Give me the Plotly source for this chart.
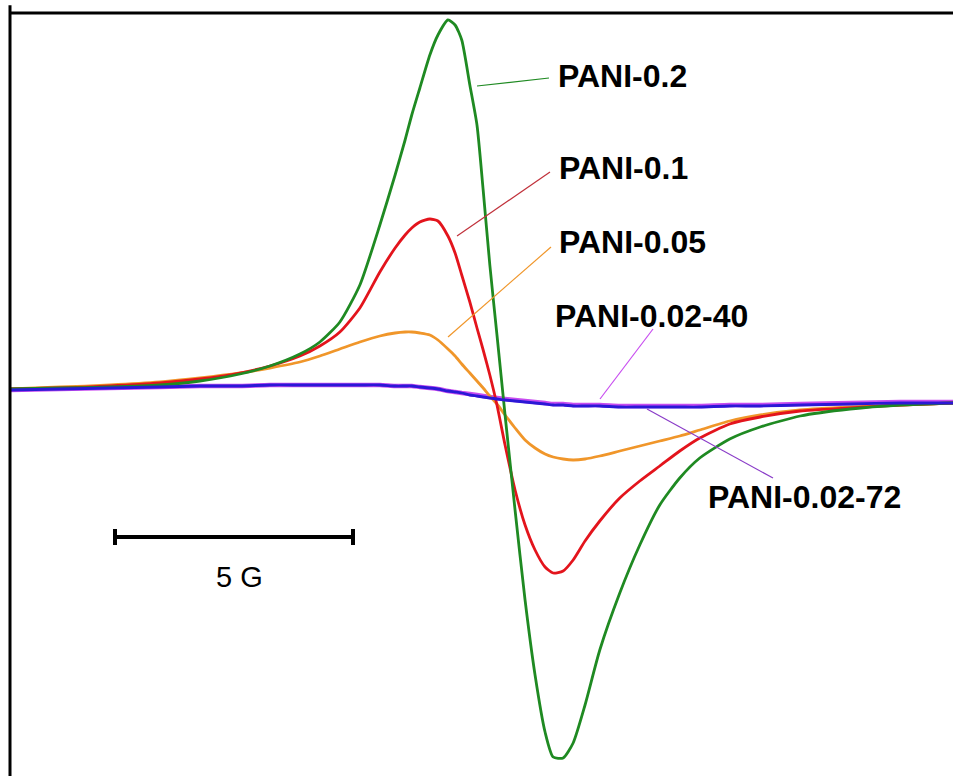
import plotly.graph_objects as go

# Magnetic field offset (G) relative to the centre of the resonance
field_G = [-10.23, -9.18, -8.13, -7.08, -6.24, -5.40, -4.77, -4.14, -3.72, -3.30,
           -2.88, -2.46, -2.14, -1.93, -1.79, -1.62, -1.41, -1.24, -1.03, -0.88,
           -0.74, -0.57, -0.42, -0.29, -0.15, 0.00, 0.17, 0.38, 0.59, 0.80,
           1.01, 1.18, 1.39, 1.60, 1.85, 2.16, 2.58, 3.00, 3.42, 3.84,
           4.26, 4.89, 5.53, 6.37, 7.42, 8.47, 9.58]

# EPR first-derivative signals (arbitrary units)
pani_02 = [1, 2, 3, 5, 9, 16, 24, 36, 48, 68,
           105, 165, 215, 250, 275, 302, 335, 355, 370, 365,
           350, 305, 265, 200, 125, 55, -25, -120, -210, -285,
           -342, -367, -368, -353, -315, -260, -203, -155, -115, -88,
           -68, -49, -37, -26, -19, -15, -13]
pani_01 = [1, 2, 4, 7, 11, 17, 24, 34, 44, 58,
           82, 118, 142, 155, 162, 168, 171, 169, 154, 137,
           115, 88, 62, 40, 15, -15, -55, -100, -135, -160,
           -177, -183, -181, -170, -151, -131, -108, -91, -76, -61,
           -48, -34, -27, -21, -18, -15, -13]
pani_005 = [1, 3, 5, 8, 12, 17, 22, 28, 34, 41,
            48, 54, 57, 58, 58, 57, 55, 50, 41, 34,
            26, 17, 9, 2, -6, -14, -25, -38, -50, -58,
            -64, -67, -69, -70, -69, -66, -61, -56, -51, -46,
            -40, -31, -25, -20, -17, -15, -13]
pani_002_40 = [0, 1, 2, 3, 4, 4, 5, 5, 5, 5,
               5, 5, 4, 4, 4, 3, 2, 1, -1, -2,
               -3, -4, -5, -6, -7, -8, -9, -10, -11, -12,
               -13, -14, -14, -15, -15, -15, -16, -16, -16, -16,
               -16, -15, -15, -14, -13, -12, -12]
pani_002_72 = [0, 1, 2, 3, 4, 4, 5, 5, 5, 5,
               5, 5, 4, 4, 4, 3, 2, 1, -1, -2,
               -3, -5, -6, -7, -8, -9, -10, -11, -12, -13,
               -14, -15, -15, -16, -16, -16, -17, -17, -17, -17,
               -17, -16, -16, -15, -14, -13, -13]

series_names = ["PANI-0.02-40", "PANI-0.05", "PANI-0.1", "PANI-0.2", "PANI-0.02-72"]
series_vals = [pani_002_40, pani_005, pani_01, pani_02, pani_002_72]
series_colors = ["#c84cf0", "#f0962a", "#e3141c", "#1f8a22", "#2b18d6"]
series_widths = [4.5, 2.8, 2.8, 2.8, 2.8]

scale_bar_G = 5
scale_bar_label = "5 G"

W, H = 953, 776
L, T = 10, 13
X_RANGE = [-10.23, 9.58]
Y_RANGE = [-386, 377]


def X(px):
    return X_RANGE[0] + (px - L) / (W - L) * (X_RANGE[1] - X_RANGE[0])


def Y(py):
    return Y_RANGE[1] - (py - T) / (H - T) * (Y_RANGE[1] - Y_RANGE[0])


fig = go.Figure()
for name, vals, col, w in zip(series_names, series_vals, series_colors, series_widths):
    fig.add_trace(go.Scatter(x=field_G, y=vals, mode="lines", name=name,
                             line=dict(color=col, width=w, shape="spline", smoothing=0.6),
                             hoverinfo="skip"))

label_font = dict(family="Liberation Sans, Arial, sans-serif", size=32, color="black")
labels = [
    ("PANI-0.2", 556, 76, (477, 86), (549, 78), "#1f8a22"),
    ("PANI-0.1", 557, 168, (457, 236), (550, 172), "#c0303a"),
    ("PANI-0.05", 557, 242, (448, 337), (551, 247), "#f0962a"),
    ("PANI-0.02-40", 553, 316, (600, 399), (653, 329), "#c84cf0"),
    ("PANI-0.02-72", 706, 497, (647, 409), (773, 478), "#8a3cc8"),
]
for text, lx, ly, p0, p1, col in labels:
    fig.add_annotation(x=X(lx), y=Y(ly), text="<b>%s</b>" % text, showarrow=False,
                       xanchor="left", yanchor="middle", font=label_font)
    fig.add_shape(type="line", x0=X(p0[0]), y0=Y(p0[1]), x1=X(p1[0]), y1=Y(p1[1]),
                  line=dict(color=col, width=1.2), layer="above")

# scale bar
sb_x0 = X(115)
sb_x1 = sb_x0 + scale_bar_G
sb_y = Y(537)
fig.add_shape(type="line", x0=sb_x0, x1=sb_x1, y0=sb_y, y1=sb_y, line=dict(color="black", width=4))
for xx in (sb_x0, sb_x1):
    fig.add_shape(type="line", x0=xx, x1=xx, y0=Y(529), y1=Y(545), line=dict(color="black", width=4))
fig.add_annotation(x=X(239), y=Y(577), text=scale_bar_label, showarrow=False,
                   font=dict(family="Liberation Sans, Arial, sans-serif", size=29, color="black"))

# frame (left and top)
fig.add_shape(type="line", xref="paper", yref="paper", x0=0, x1=0, y0=0, y1=1.01,
              line=dict(color="black", width=3), layer="above")
fig.add_shape(type="line", xref="paper", yref="paper", x0=0, x1=1.01, y0=1, y1=1,
              line=dict(color="black", width=3), layer="above")

fig.update_layout(
    width=W, height=H,
    margin=dict(l=L, r=0, t=T, b=0),
    paper_bgcolor="white", plot_bgcolor="white",
    showlegend=False,
    xaxis=dict(range=X_RANGE, visible=False, fixedrange=True),
    yaxis=dict(range=Y_RANGE, visible=False, fixedrange=True),
)

fig.write_html("out.html", config={"displayModeBar": False},
               post_script="document.body.style.margin='0';document.body.style.overflow='hidden';")
